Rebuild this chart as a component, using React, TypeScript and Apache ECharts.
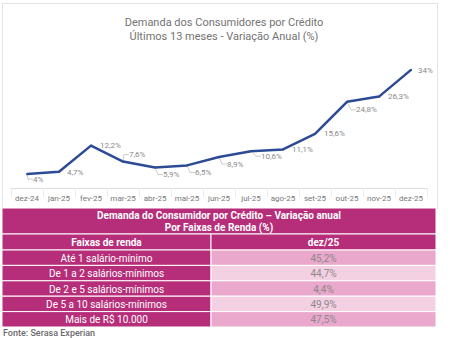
import React, { useEffect, useRef } from "react";
import * as echarts from "echarts";

const meses = ["dez-24", "jan-25", "fev-25", "mar-25", "abr-25", "mai-25", "jun-25", "jul-25", "ago-25", "set-25", "out-25", "nov-25", "dez-25"];
const variacao = [4, 4.7, 12.2, 7.6, 5.9, 6.5, 8.9, 10.6, 11.1, 15.6, 24.8, 26.3, 34];

const tituloGrafico = "Demanda dos Consumidores por Crédito\nÚltimos 13 meses - Variação Anual (%)";
const tituloTabela = "Demanda do Consumidor por Crédito – Variação anual\nPor Faixas de Renda (%)";
const cabecalhos = ["Faixas de renda", "dez/25"];
const faixas = ["Até 1 salário-mínimo", "De 1 a 2 salários-mínimos", "De 2 e 5 salários-mínimos", "De 5 a 10 salários-mínimos", "Mais de R$ 10.000"];
const valoresDez25 = [45.2, 44.7, 4.4, 49.9, 47.5];
const fonte = "Fonte: Serasa Experian";

// label offsets and leader visibility (style only)
const labelShift: [number, number][] = [
  [-2, 5], [0, 1], [1, 0], [-2, -7], [0, 7], [0, 7], [0, 7], [2, 5], [1, 0], [1, 0], [1, 8], [1, 0], [-1, 1],
];
const leader = [true, false, false, true, true, true, true, true, false, false, true, false, false];

const fmt = (v: number) => String(v).replace(".", ",") + "%";

const MAGENTA = "#b62e7a";
const PINK_D = "#eaa8cc";
const PINK_L = "#f4d0e3";
const FONT = "Roboto";
const BLUE = "#2d4b95";

export default function App() {
  const ref = useRef<HTMLDivElement>(null);
  useEffect(() => {
    if (!ref.current) return;
    const chart = echarts.init(ref.current, undefined, { renderer: "svg" });

    const x0 = 2, x1 = 211, x2 = 436;
    const yTitle = 208, hTitle = 26, hHead = 16, hRow = 15.4;
    const yHead = yTitle + hTitle;
    const yRows = yHead + hHead;
    const g: any[] = [];
    g.push({ type: "rect", shape: { x: 2.5, y: 3.5, width: 435, height: 205 }, style: { fill: "#fff", stroke: "#e4e4e4", lineWidth: 1 }, z: -10 });
    g.push({ type: "rect", shape: { x: x0, y: yTitle, width: x2 - x0, height: hTitle }, style: { fill: MAGENTA, stroke: "#fff", lineWidth: 1 } });
    g.push({ type: "text", style: { x: (x0 + x2) / 2, y: yTitle + hTitle / 2 + 0.5, text: tituloTabela, align: "center", verticalAlign: "middle", fill: "#fff", font: `bold 10px ${FONT}`, lineHeight: 12 } });
    g.push({ type: "rect", shape: { x: x0, y: yHead, width: x1 - x0, height: hHead }, style: { fill: MAGENTA, stroke: "#fff", lineWidth: 1 } });
    g.push({ type: "rect", shape: { x: x1, y: yHead, width: x2 - x1, height: hHead }, style: { fill: MAGENTA, stroke: "#fff", lineWidth: 1 } });
    g.push({ type: "text", style: { x: (x0 + x1) / 2, y: yHead + hHead / 2 + 0.5, text: cabecalhos[0], align: "center", verticalAlign: "middle", fill: "#fff", font: `bold 10px ${FONT}` } });
    g.push({ type: "text", style: { x: (x1 + x2) / 2, y: yHead + hHead / 2 + 0.5, text: cabecalhos[1], align: "center", verticalAlign: "middle", fill: "#fff", font: `bold 10px ${FONT}` } });
    faixas.forEach((f, i) => {
      const y = yRows + i * hRow;
      g.push({ type: "rect", shape: { x: x0, y, width: x1 - x0, height: hRow }, style: { fill: MAGENTA, stroke: "#fff", lineWidth: 1 } });
      g.push({ type: "rect", shape: { x: x1, y, width: x2 - x1, height: hRow }, style: { fill: i % 2 === 0 ? PINK_D : PINK_L, stroke: "#fff", lineWidth: 1 } });
      g.push({ type: "text", style: { x: (x0 + x1) / 2, y: y + hRow / 2 + 0.5, text: f, align: "center", verticalAlign: "middle", fill: "#fff", font: `10px ${FONT}` } });
      g.push({ type: "text", style: { x: (x1 + x2) / 2, y: y + hRow / 2 + 0.5, text: fmt(valoresDez25[i]), align: "center", verticalAlign: "middle", fill: "#8a8a8a", font: `10px ${FONT}` } });
    });
    g.push({ type: "text", style: { x: 3, y: yRows + faixas.length * hRow + 6, text: fonte, align: "left", verticalAlign: "middle", fill: "#6b6b6b", font: `500 9px ${FONT}` } });

    chart.setOption({
      animation: false,
      backgroundColor: "#fff",
      title: {
        text: tituloGrafico,
        left: 219,
        textAlign: "center",
        top: 10,
        textStyle: { fontFamily: FONT, fontSize: 11, fontWeight: "normal", color: "#737373", lineHeight: 14 },
      },
      grid: { left: 11, right: 24, top: 49, bottom: 150, containLabel: false },
      xAxis: {
        type: "category",
        data: meses,
        boundaryGap: true,
        axisLine: { lineStyle: { color: "#dcdcdc", width: 1 } },
        axisTick: { show: true, length: 9, interval: 0, lineStyle: { color: "#ececec" } },
        axisLabel: { color: "#777", fontFamily: FONT, fontSize: 8, margin: 6, interval: 0 },
      },
      yAxis: { type: "value", min: 0, max: 40, show: false, splitLine: { show: false } },
      series: [
        {
          type: "line",
          data: variacao.map((v, i) => ({ value: v, labelLine: { show: leader[i] } })),
          showSymbol: true,
          symbol: "circle",
          symbolSize: 2,
          lineStyle: { color: BLUE, width: 2.5 },
          itemStyle: { color: BLUE },
          label: {
            show: true,
            position: "right",
            distance: 7,
            color: "#8a8a8a",
            fontFamily: FONT,
            fontSize: 8,
            formatter: (p: any) => fmt(p.value),
          },
          labelLayout: (p: any) => ({ dx: labelShift[p.dataIndex][0], dy: labelShift[p.dataIndex][1] }),
          labelLine: { show: true, length2: 5, lineStyle: { color: "#b5b5b5", width: 0.7 } },
        },
      ],
      graphic: g,
    });
    return () => chart.dispose();
  }, []);
  return <div ref={ref} style={{ position: "fixed", left: 0, top: 0, width: 451, height: 338 }} />;
}
